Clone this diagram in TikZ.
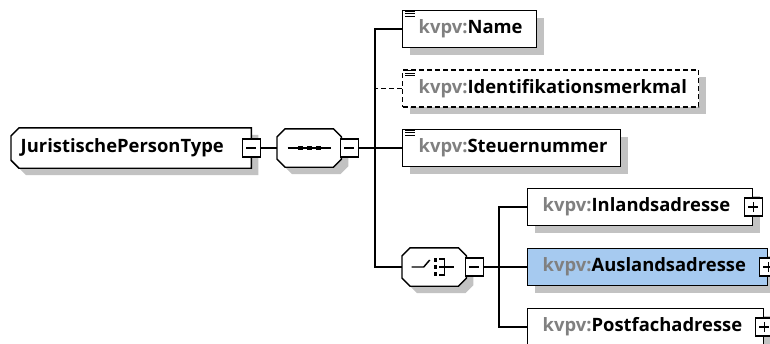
\documentclass[tikz,border=0pt]{standalone}
\usepackage{fontspec}
\setmainfont{Open Sans}
\usetikzlibrary{shadows,backgrounds}
\definecolor{nsgray}{RGB}{128,128,128}
\definecolor{selblue}{RGB}{166,202,240}
\newcommand\kv{\textcolor{nsgray}{kvpv:}}

\begin{document}
\begin{tikzpicture}[x=1pt, y=-1pt, every path/.style={line width=1.45pt},
	font=\fontsize{18.4}{22}\selectfont\bfseries,
	sh/.style={drop shadow={shadow xshift=7pt, shadow yshift=-7pt, fill=black!24, opacity=1}},
	elem/.style 2 args={draw, fill=white, sh, anchor=west, inner sep=0pt,
		minimum height=37pt, minimum width=#1, text width=#2, align=left},
	grp/.style={anchor=west, inner sep=0pt, minimum width=63pt, minimum height=37pt},
	oct/.style={draw, fill=white, sh},
	pm/.style={draw, fill=white, inner sep=0pt, minimum width=18pt, minimum height=18pt},
	minus/.style={pm, path picture={
		\draw ([xshift=-5pt]path picture bounding box.center) -- ([xshift=5pt]path picture bounding box.center);}},
	plus/.style={pm, path picture={
		\draw ([xshift=-5pt]path picture bounding box.center) -- ([xshift=5pt]path picture bounding box.center);
		\draw ([yshift=-5pt]path picture bounding box.center) -- ([yshift=5pt]path picture bounding box.center);}}
	]
	\useasboundingbox (0,0) rectangle (770,343);

	\node[grp, minimum width=239pt, minimum height=39pt, text width=221pt, align=left] (jp) at (11,148) {JuristischePersonType};
	\node[minus] (jpm) at (jp.east) {};
	\node[grp] (sq) at (277,148) {};
	\node[minus] (sqm) at ([xshift=8pt]sq.east) {};

	\node[elem={134pt}{102pt}] (nm) at (402,29) {\kv Name};
	\node[elem={296pt}{264pt}, dash pattern=on 5pt off 3pt] (id) at (402,88.5) {\kv Identifikationsmerkmal};
	\node[elem={218pt}{186pt}] (st) at (402,148) {\kv Steuernummer};
	\node[grp] (ch) at (402,267) {};
	\node[minus] (chm) at ([xshift=8pt]ch.east) {};

	\node[elem={225pt}{195pt}] (ia) at (527,207) {\kv Inlandsadresse};
	\node[elem={240pt}{210pt}, fill=selblue] (au) at (527,267) {\kv Auslandsadresse};
	\node[elem={236pt}{206pt}] (pf) at (527,327) {\kv Postfachadresse};
	\node[plus] (iap) at (ia.east) {};
	\node[plus] (aup) at (au.east) {};
	\node[plus] (pfp) at (pf.east) {};

	\begin{pgfonlayer}{background}
		\draw[oct] ([xshift=8pt]jp.north west) -- (jp.north east) -- (jp.south east) -- ([xshift=8pt]jp.south west)
			-- ([yshift=8pt]jp.south west) -- ([yshift=-8pt]jp.north west) -- cycle;
		\foreach \n in {sq,ch}
			\draw[oct] ([xshift=8pt]\n.north west) -- ([xshift=-8pt]\n.north east) -- ([yshift=-8pt]\n.north east)
				-- ([yshift=8pt]\n.south east) -- ([xshift=-8pt]\n.south east) -- ([xshift=8pt]\n.south west)
				-- ([yshift=8pt]\n.south west) -- ([yshift=-8pt]\n.north west) -- cycle;
	\end{pgfonlayer}

	\coordinate (t) at (375,148);
	\coordinate (c) at (499,267);
	\draw (jpm.east) -- (sq.west);
	\draw (sqm.east) -- (st.west);
	\draw (nm.west) -| (t) |- (ch.west);
	\draw[dash pattern=on 5pt off 3pt] (id.west) -- (id.west -| t);
	\draw (chm.east) -- (au.west);
	\draw (ia.west) -| (c) |- (pf.west);

	\foreach \n in {nm,id,st}
		\foreach \d in {1.5,4,6.5}
			\draw[line width=1.2pt] ([shift={(3,\d)}]\n.north west) -- ++(10,0);

	\begin{scope}[shift={(sq.center)}]
		\draw (-21.5,0) -- (21.5,0);
		\foreach \d in {-9,0,9}
			\fill ({\d-2.5},-2) rectangle ({\d+2.5},2);
	\end{scope}
	\begin{scope}[shift={(ch.center)}]
		\draw (-22.5,0) -- (-10.5,0) -- (-4.5,-7);
		\foreach \d in {-7,0,7}
			\fill (-0.5,{\d-1.8}) rectangle (3,{\d+1.8});
		\draw (5,-8) -| (10.5,8) -- (5,8);
		\draw (5,0) -- (19.5,0);
	\end{scope}
\end{tikzpicture}
\end{document}
